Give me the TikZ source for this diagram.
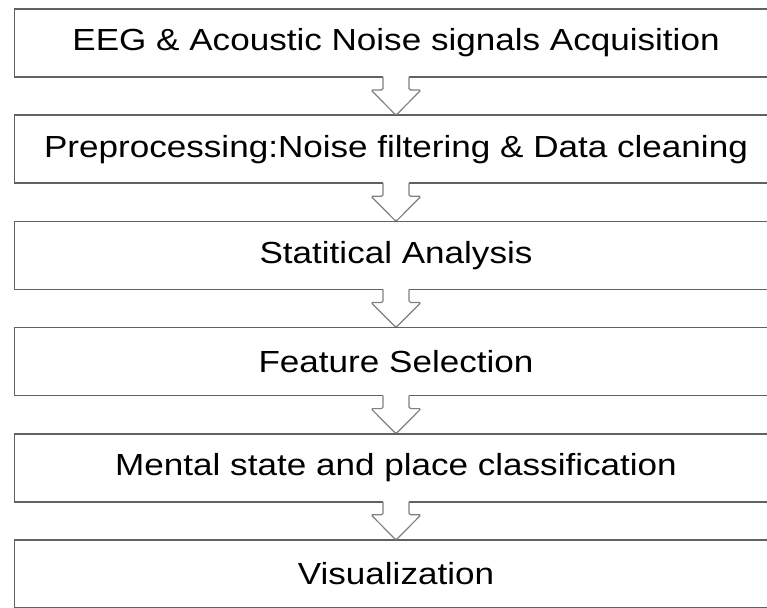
\documentclass[tikz,border=0pt]{standalone}
\usepackage{fontspec}
\setmainfont{Liberation Sans}[FakeStretch=1.15]
\usepackage{tikz}

\begin{document}
\begin{tikzpicture}[x=1pt, y=-1pt,
		stagebox/.style={draw=black!62, line width=1.6pt, fill=white, minimum width=763pt, minimum height=68pt, inner sep=0pt, outer sep=0pt, font=\fontsize{30.5}{36}\selectfont},
		blockarrow/.style={draw=black!50, line width=1.2pt, fill=white, rounded corners=1.5pt},
		gappatch/.style={fill=white}]
			% Fix the page size:
			\useasboundingbox (0,0) rectangle (767,607);
			% Specify the positions of the stages:
			\node[stagebox] (S1) at (396, 43.0) {EEG \& Acoustic Noise signals Acquisition};
			\node[stagebox] (S2) at (396, 149.2) {Preprocessing:Noise filtering \& Data cleaning};
			\node[stagebox] (S3) at (396, 255.4) {Statitical Analysis};
			\node[stagebox] (S4) at (396, 361.6) {Feature Selection};
			\node[stagebox] (S5) at (396, 467.8) {Mental state and place classification};
			\node[stagebox] (S6) at (396, 574.0) {Visualization};
			% Open the bottom edges where the arrows leave:
			\fill[gappatch] ([xshift=-13pt,yshift=2pt]S1.south) rectangle ([xshift=13pt,yshift=-2pt]S1.south);
			\fill[gappatch] ([xshift=-13pt,yshift=2pt]S2.south) rectangle ([xshift=13pt,yshift=-2pt]S2.south);
			\fill[gappatch] ([xshift=-13pt,yshift=2pt]S3.south) rectangle ([xshift=13pt,yshift=-2pt]S3.south);
			\fill[gappatch] ([xshift=-13pt,yshift=2pt]S4.south) rectangle ([xshift=13pt,yshift=-2pt]S4.south);
			\fill[gappatch] ([xshift=-13pt,yshift=2pt]S5.south) rectangle ([xshift=13pt,yshift=-2pt]S5.south);
			% Draw the block arrows:
			\draw[blockarrow] ([xshift=-13pt]S1.south) -- ++(0,13) -- ++(-12,0) -- (S2.north) -- ++(25,-25.2) -- ++(-12,0) -- ([xshift=13pt]S1.south);
			\draw[blockarrow] ([xshift=-13pt]S2.south) -- ++(0,13) -- ++(-12,0) -- (S3.north) -- ++(25,-25.2) -- ++(-12,0) -- ([xshift=13pt]S2.south);
			\draw[blockarrow] ([xshift=-13pt]S3.south) -- ++(0,13) -- ++(-12,0) -- (S4.north) -- ++(25,-25.2) -- ++(-12,0) -- ([xshift=13pt]S3.south);
			\draw[blockarrow] ([xshift=-13pt]S4.south) -- ++(0,13) -- ++(-12,0) -- (S5.north) -- ++(25,-25.2) -- ++(-12,0) -- ([xshift=13pt]S4.south);
			\draw[blockarrow] ([xshift=-13pt]S5.south) -- ++(0,13) -- ++(-12,0) -- (S6.north) -- ++(25,-25.2) -- ++(-12,0) -- ([xshift=13pt]S5.south);
		\end{tikzpicture}
\end{document}
